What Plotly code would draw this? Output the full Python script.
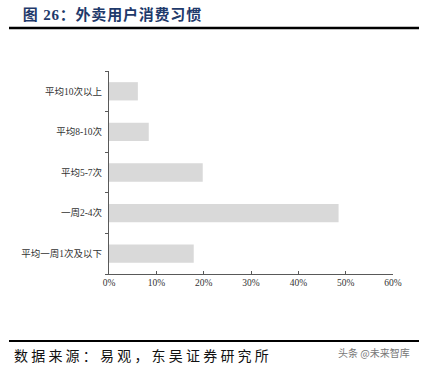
import plotly.graph_objects as go

categories = ["平均一周1次及以下", "一周2-4次", "平均5-7次", "平均8-10次", "平均10次以上"]
values = [0.179, 0.485, 0.198, 0.084, 0.061]
x_ticks = [0, 0.1, 0.2, 0.3, 0.4, 0.5, 0.6]
x_tick_labels = ["0%", "10%", "20%", "30%", "40%", "50%", "60%"]

W, H = 422, 367
L, R, T, B = 109, 393, 71, 274

def px(x):
    return (x - L) / (R - L)

def py(y):
    return (B - y) / (B - T)

fig = go.Figure(go.Bar(
    y=categories, x=values, orientation="h",
    marker=dict(color="#d9d9d9", line=dict(width=0)),
))

font_tick = "Liberation Serif, Noto Sans CJK SC, serif"

fig.update_layout(
    width=W, height=H,
    margin=dict(l=L, r=W - R, t=T, b=H - B, pad=0),
    paper_bgcolor="white", plot_bgcolor="white",
    showlegend=False,
    bargap=0.55,
    xaxis=dict(
        range=[0, 0.6], tickvals=x_ticks, ticktext=x_tick_labels,
        showgrid=False, zeroline=False,
        showline=True, linecolor="#595959", linewidth=1,
        ticks="inside", ticklen=3, tickcolor="#595959",
        tickfont=dict(family=font_tick, size=9.5, color="#333333"),
        fixedrange=True,
    ),
    yaxis=dict(
        categoryorder="array", categoryarray=categories,
        showgrid=False, zeroline=False,
        showline=True, linecolor="#595959", linewidth=1,
        ticks="outside", ticklen=3, tickcolor="#595959", tickson="boundaries",
        tickfont=dict(family=font_tick, size=9.5, color="#333333"),
        ticklabelstandoff=4,
        fixedrange=True,
    ),
    shapes=[
        dict(type="line", xref="paper", yref="paper",
             x0=px(9), x1=px(419), y0=py(28), y1=py(28),
             line=dict(color="black", width=2.5)),
        dict(type="line", xref="paper", yref="paper",
             x0=px(9), x1=px(419), y0=py(341), y1=py(341),
             line=dict(color="black", width=2)),
    ],
    annotations=[
        dict(text="<b>图 26：外卖用户消费习惯</b>", xref="paper", yref="paper",
             x=px(112), y=py(14), xanchor="center", yanchor="middle", showarrow=False,
             font=dict(family="Liberation Serif, Noto Sans CJK SC, serif", size=15, color="#1f3a6b")),
        dict(text="数据来源：易观，东吴证券研究所", xref="paper", yref="paper",
             x=px(143), y=py(356), xanchor="center", yanchor="middle", showarrow=False,
             font=dict(family="Liberation Serif, Noto Sans CJK SC, serif", size=14, color="#111111")),
        dict(text="头条 @未来智库", xref="paper", yref="paper",
             x=px(412), y=py(352), xanchor="right", yanchor="middle", showarrow=False,
             font=dict(family="Noto Sans CJK SC, sans-serif", size=10, color="#777777")),
    ],
)

post = """
document.body.style.margin='0';document.body.style.overflow='hidden';
var t=document.querySelectorAll('.annotation-text');
if(t.length>1){t[0].style.letterSpacing='0.8px';t[1].style.letterSpacing='3.2px';}
"""

fig.write_html("out.html", config={"displayModeBar": False}, post_script=post)
